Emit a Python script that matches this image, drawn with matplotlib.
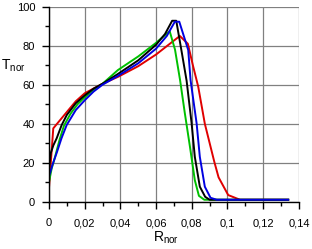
import matplotlib
matplotlib.use("Agg")
import matplotlib.pyplot as plt
from matplotlib.ticker import MultipleLocator

plt.rcParams['font.family'] = ['Liberation Sans', 'DejaVu Sans']

# data (R_nor, T_nor)
red_r = [0, 0.0024, 0.005, 0.01, 0.015, 0.02, 0.03, 0.0386, 0.05, 0.06, 0.0733,
         0.0778, 0.0806, 0.0836, 0.0873, 0.0926, 0.095, 0.1004, 0.107, 0.134]
red_t = [7, 37.6, 40.5, 46, 51.5, 55.6, 60.5, 64, 69.5, 75.5, 85,
         81, 70, 59, 40, 20.5, 12.5, 3.4, 1.0, 1.0]

green_r = [0, 0.0015, 0.0034, 0.006, 0.0084, 0.012, 0.016, 0.02, 0.025, 0.03, 0.0386,
           0.05, 0.06, 0.0676, 0.0706, 0.0735, 0.076, 0.079, 0.0817, 0.084, 0.087, 0.134]
green_t = [10, 17, 23, 32, 39, 45, 50, 53.5, 57.5, 60.5, 67.5,
           74.5, 81.5, 87.5, 78, 62, 46, 28, 11, 3, 1.0, 1.0]

black_r = [0, 0.001, 0.0025, 0.0043, 0.0071, 0.01, 0.015, 0.02, 0.025, 0.03, 0.0386,
           0.05, 0.06, 0.065, 0.069, 0.0713, 0.0745, 0.0771, 0.0799, 0.0817, 0.0845,
           0.0875, 0.090, 0.134]
black_t = [17, 25, 29, 32.5, 39.3, 44.5, 50.5, 54.5, 58, 60.5, 65.5,
           72.5, 80.5, 86, 92.8, 92.8, 76, 62, 40.2, 23, 7.7,
           2.5, 1.0, 1.0]

blue_r = [0, 0.002, 0.0043, 0.007, 0.0099, 0.015, 0.02, 0.025, 0.03, 0.0386,
          0.05, 0.06, 0.066, 0.0705, 0.0730, 0.078, 0.0793, 0.0827, 0.0845, 0.0873,
          0.0905, 0.094, 0.134]
blue_t = [13, 19, 25, 32.5, 39.3, 47, 52, 56.5, 60, 64.5,
          71, 78.5, 85, 92.3, 92.3, 77.8, 62.4, 40.2, 23, 7.7,
          2, 1.0, 1.0]

x_ticks = [0, 0.02, 0.04, 0.06, 0.08, 0.1, 0.12, 0.14]
x_labels = ['0', '0,02', '0,04', '0,06', '0,08', '0,1', '0,12', '0,14']
y_ticks = [0, 20, 40, 60, 80, 100]

fig = plt.figure(figsize=(3.12, 2.49), dpi=100)
ax = fig.add_axes([0.157, 0.19, 0.801, 0.783])

ax.plot(red_r, red_t, color='#e00000', lw=1.4)
ax.plot(green_r, green_t, color='#00c000', lw=1.4)
ax.plot(black_r, black_t, color='black', lw=1.4)
ax.plot(blue_r, blue_t, color='#0000e0', lw=1.4)

ax.set_xlim(0, 0.14)
ax.set_ylim(0, 100)
ax.set_xticks(x_ticks)
ax.set_xticklabels(x_labels)
ax.set_yticks(y_ticks)
ax.xaxis.set_minor_locator(MultipleLocator(0.01))
ax.yaxis.set_minor_locator(MultipleLocator(10))

ax.grid(True, which='major', color='#808080', lw=0.9)
ax.set_axisbelow(True)
for s in ['top', 'right']:
    ax.spines[s].set_visible(False)
for s in ['left', 'bottom']:
    ax.spines[s].set_linewidth(1.0)

ax.tick_params(which='major', direction='out', length=5, width=1, labelsize=8)
ax.tick_params(which='minor', direction='out', length=3, width=1)
ax.tick_params(axis='x', which='major', pad=7)
ax.tick_params(axis='y', which='major', pad=5)

fig.text(0.003, 0.735, 'T$_{\\mathregular{nor}}$', fontsize=10, ha='left', va='center')
fig.text(0.49, 0.045, 'R$_{\\mathregular{nor}}$', fontsize=10, ha='left', va='center')

fig.savefig('out.png', dpi=100)
